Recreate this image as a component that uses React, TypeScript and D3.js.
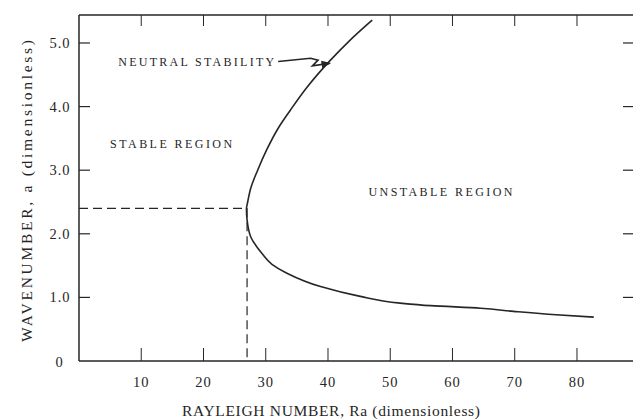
import React from 'react';
import * as d3 from 'd3';

// neutral stability curve (top end -> lower right end)
const curveRa = [47.1, 43.6, 40.4, 36.6, 34.0, 32.0, 30.2, 28.7, 27.6, 27.1, 26.9, 27.0, 27.6, 29.4, 31.0, 33.4, 38.8, 45.0, 51.6, 56.5, 64.5, 69.8, 76.0, 82.7];
const curveA = [5.36, 5.05, 4.73, 4.3, 3.95, 3.66, 3.33, 3.0, 2.72, 2.5, 2.39, 2.22, 1.95, 1.69, 1.52, 1.38, 1.17, 1.02, 0.91, 0.87, 0.83, 0.78, 0.73, 0.69];

const critical = { ra: 27, a: 2.4 };

const xTicks = [10, 20, 30, 40, 50, 60, 70, 80];
const yTicks = [1, 2, 3, 4, 5];
const yTickLabels = ['1.0', '2.0', '3.0', '4.0', '5.0'];

// squiggly leader from the label to the curve
const arrowRa = [32.0, 37.2, 38.4, 37.5, 40.2];
const arrowA = [4.71, 4.76, 4.73, 4.64, 4.68];

const labels = [
  { text: 'NEUTRAL STABILITY', ra: 6.3, a: 4.64, len: 156 },
  { text: 'STABLE REGION', ra: 5.0, a: 3.35, len: 122 },
  { text: 'UNSTABLE REGION', ra: 46.5, a: 2.59, len: 144 },
];

const W = 633;
const H = 419;
const ink = '#262626';
const font = '"Liberation Serif", "DejaVu Serif", serif';

const App: React.FC = () => {
  const x = d3.scaleLinear().domain([0, 89]).range([79, 633]);
  const y = d3.scaleLinear().domain([0, 5.44]).range([361, 15]);

  const pts = curveRa.map((r, i) => [r, curveA[i]] as [number, number]);
  const line = d3.line<[number, number]>()
    .x(d => x(d[0]))
    .y(d => y(d[1]))
    .curve(d3.curveMonotoneY);

  const arrowPts = arrowRa.map((r, i) => [r, arrowA[i]] as [number, number]);
  const arrowLine = d3.line<[number, number]>().x(d => x(d[0])).y(d => y(d[1]));

  const [x0, x1] = x.range();
  const [yb, yt] = y.range();

  return (
    <svg width={W} height={H} style={{ position: 'absolute', left: 0, top: 0, background: '#fff' }}>
      <defs>
        <marker id="tip" viewBox="0 0 10 10" refX="8" refY="5" markerWidth="6" markerHeight="6" orient="auto">
          <path d="M0,1 L10,5 L0,9 Z" fill={ink} />
        </marker>
      </defs>

      {/* frame */}
      <line x1={x0} x2={x0} y1={yt} y2={yb} stroke={ink} strokeWidth={1.5} />
      <line x1={x0} x2={x1} y1={yb} y2={yb} stroke={ink} strokeWidth={1.5} />
      <line x1={x0} x2={x1} y1={yt} y2={yt} stroke={ink} strokeWidth={1.3} />

      {/* x ticks, bottom and top */}
      {xTicks.map(t => (
        <g key={'x' + t}>
          <line x1={x(t)} x2={x(t)} y1={yb} y2={yb - 13} stroke={ink} strokeWidth={1} />
          <line x1={x(t)} x2={x(t)} y1={yt} y2={yt + 11} stroke={ink} strokeWidth={1} />
          <text x={x(t)} y={387} textAnchor="middle" fontFamily={font} fontSize={14.5} fill={ink} letterSpacing={1}>{t}</text>
        </g>
      ))}

      {/* y ticks, left and right */}
      {yTicks.map((t, i) => (
        <g key={'y' + t}>
          <line x1={x0} x2={x0 + 11} y1={y(t)} y2={y(t)} stroke={ink} strokeWidth={1.2} />
          <line x1={x1 - 10} x2={x1} y1={y(t)} y2={y(t)} stroke={ink} strokeWidth={1.2} />
          <text x={60} y={y(t)} dy="0.35em" textAnchor="middle" fontFamily={font} fontSize={14.5} fill={ink} letterSpacing={1}>{yTickLabels[i]}</text>
        </g>
      ))}
      <text x={59} y={y(0)} dy="0.4em" textAnchor="middle" fontFamily={font} fontSize={14.5} fill={ink}>0</text>

      {/* axis titles */}
      <text x={331} y={416} textAnchor="middle" fontFamily={font} fontSize={15.5} fill={ink} textLength={298} lengthAdjust="spacing">
        RAYLEIGH NUMBER, Ra (dimensionless)
      </text>
      <text transform={`translate(27,${191}) rotate(-90)`} textAnchor="middle" dy="0.35em" fontFamily={font} fontSize={15.5} fill={ink} textLength={302} lengthAdjust="spacing">
        WAVENUMBER, a (dimensionless)
      </text>

      {/* critical point guides */}
      <line x1={x0} x2={x(critical.ra)} y1={y(critical.a)} y2={y(critical.a)} stroke={ink} strokeWidth={1.2} strokeDasharray="9,5" />
      <line x1={x(critical.ra)} x2={x(critical.ra)} y1={y(critical.a)} y2={yb} stroke={ink} strokeWidth={1.2} strokeDasharray="9,5" />

      {/* curve */}
      <path d={line(pts) ?? ''} fill="none" stroke={ink} strokeWidth={1.6} />

      {/* annotations */}
      {labels.map(l => (
        <text key={l.text} x={x(l.ra)} y={y(l.a)} fontFamily={font} fontSize={12} fill={ink} textLength={l.len} lengthAdjust="spacing">
          {l.text}
        </text>
      ))}
      <path d={arrowLine(arrowPts) ?? ''} fill="none" stroke={ink} strokeWidth={1.6} markerEnd="url(#tip)" />
    </svg>
  );
};

export default App;
